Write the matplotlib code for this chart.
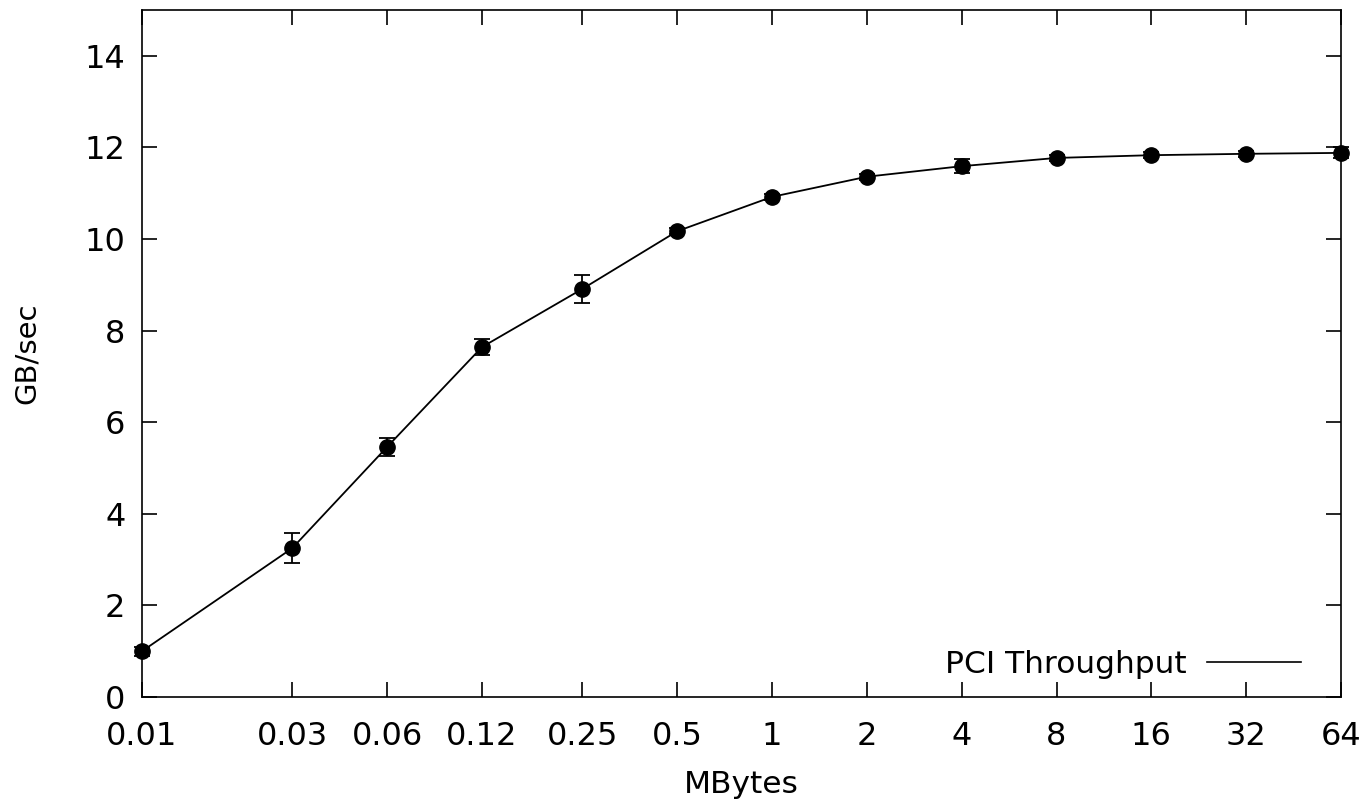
import matplotlib
matplotlib.use("Agg")
import matplotlib.pyplot as plt
from matplotlib.lines import Line2D

sizes_mb = [0.01, 0.03, 0.06, 0.12, 0.25, 0.5, 1, 2, 4, 8, 16, 32, 64]
tick_labels = ["0.01", "0.03", "0.06", "0.12", "0.25", "0.5", "1", "2", "4", "8", "16", "32", "64"]
throughput = [1.0, 3.25, 5.46, 7.64, 8.91, 10.17, 10.92, 11.36, 11.59, 11.77, 11.83, 11.86, 11.88]
errors = [0.1, 0.32, 0.2, 0.18, 0.3, 0.07, 0.07, 0.07, 0.15, 0.06, 0.06, 0.06, 0.12]
y_ticks = [0, 2, 4, 6, 8, 10, 12, 14]

plt.rcParams['font.family'] = ['DejaVu Sans']
fig = plt.figure(figsize=(13.65, 8.05), dpi=100)
ax = fig.add_axes([142/1365, 108/805, (1341-142)/1365, (697-10)/805])

ax.errorbar(sizes_mb, throughput, yerr=errors, color='black', lw=1.3,
            marker='o', markersize=11, capsize=6, elinewidth=1.3, capthick=1.3,
            clip_on=False, zorder=3)
ax.set_xscale('log', base=2)
ax.set_xlim(0.01, 64)
ax.set_ylim(0, 15)
ax.set_xticks(sizes_mb)
ax.set_xticklabels(tick_labels)
ax.minorticks_off()
ax.set_yticks(y_ticks)
ax.tick_params(axis='both', direction='in', length=11, width=1.2, labelsize=23,
               top=True, right=True)
ax.tick_params(axis='x', pad=17)
ax.tick_params(axis='y', pad=12)
for s in ax.spines.values():
    s.set_linewidth(1.2)
ax.set_xlabel("MBytes", fontsize=22.5, labelpad=13)
ax.set_ylabel("GB/sec", fontsize=21, labelpad=31)

handle = Line2D([], [], color='black', lw=1.2)
ax.legend([handle], ["PCI Throughput"], loc='lower right', frameon=False,
          markerfirst=False, fontsize=22.5, handlelength=3.0, handletextpad=0.65,
          bbox_to_anchor=(0.99, -0.015))

fig.savefig("out.png", dpi=100)
